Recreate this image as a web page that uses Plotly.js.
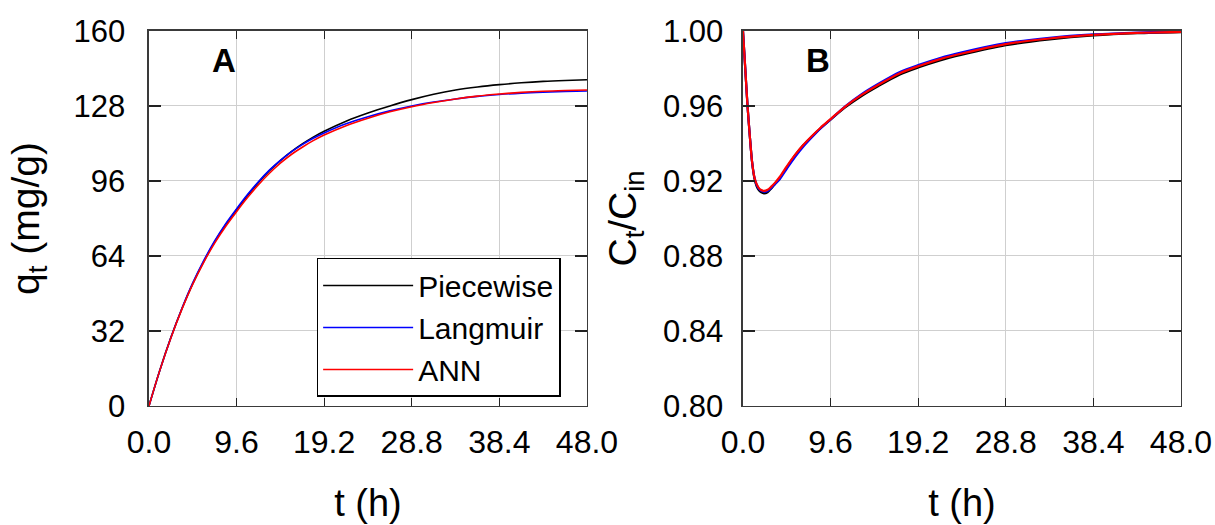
<!DOCTYPE html>
<html><head><meta charset="utf-8">
<script src="https://cdn.plot.ly/plotly-3.0.1.min.js"></script>
<style>html,body{margin:0;padding:0;background:#fff;}#chart{width:1215px;height:525px;}</style>
</head><body><div id="chart"></div>
<script>
// ---- Data ----
const seriesNames = ['Piecewise', 'Langmuir', 'ANN'];
const seriesColors = ['#000000', '#0000ff', '#ff0000'];

// Panel A: adsorbed amount q_t (mg/g) vs t (h)
const tA = [0, 1.2, 2.4, 3.6, 4.8, 6.0, 7.2, 8.4, 9.6, 10.8, 12.0, 13.2, 14.4, 15.6, 16.8, 18.0, 19.2, 21.6, 24.0, 26.4, 28.8, 31.2, 33.6, 36.0, 38.4, 40.8, 43.2, 45.6, 48.0];
const qPiecewise = [0, 15.4, 29.2, 41.4, 52.2, 61.6, 70.0, 77.3, 83.7, 89.8, 95.4, 100.4, 104.7, 108.5, 111.8, 114.7, 117.2, 121.5, 125.0, 128.0, 130.7, 133.0, 134.8, 136.1, 137.1, 137.9, 138.5, 138.9, 139.2];
const qLangmuir  = [0, 15.3, 29.1, 41.5, 52.5, 62.0, 70.4, 77.7, 84.1, 90.2, 95.7, 100.6, 104.8, 108.4, 111.5, 114.2, 116.5, 120.4, 123.4, 125.9, 128.0, 129.7, 131.0, 132.1, 132.9, 133.5, 133.9, 134.2, 134.4];
const qANN       = [0, 15.3, 29.0, 41.2, 52.0, 61.3, 69.5, 76.6, 82.9, 88.9, 94.4, 99.3, 103.6, 107.3, 110.4, 113.2, 115.6, 119.6, 122.8, 125.5, 127.7, 129.5, 131.0, 132.2, 133.1, 133.8, 134.3, 134.6, 134.8];

// Panel B: outlet concentration ratio C_t/C_in vs t (h)
const tB = [0, 0.25, 0.5, 0.75, 1.0, 1.25, 1.5, 1.75, 2.0, 2.3, 2.7, 3.1, 3.5, 4.0, 4.8, 5.7, 6.6, 7.5, 8.5, 9.6, 11.2, 13.0, 14.8, 17.2, 19.2, 21.6, 24.0, 28.8, 33.6, 38.4, 43.2, 48.0];
const cPiecewise = [1.000, 0.980, 0.9600, 0.9440, 0.9300, 0.9215, 0.9172, 0.9150, 0.9139, 0.9134, 0.9140, 0.9160, 0.9184, 0.9212, 0.9272, 0.9336, 0.9390, 0.9435, 0.9481, 0.9527, 0.9592, 0.9653, 0.9705, 0.9768, 0.9805, 0.9843, 0.9873, 0.9924, 0.9955, 0.9976, 0.9988, 0.9994];
const cLangmuir  = [1.000, 0.980, 0.9600, 0.9440, 0.9300, 0.9220, 0.9180, 0.9158, 0.9148, 0.9143, 0.9147, 0.9163, 0.9183, 0.9208, 0.9265, 0.9327, 0.9382, 0.9430, 0.9480, 0.9528, 0.9598, 0.9663, 0.9717, 0.9781, 0.9818, 0.9856, 0.9886, 0.9935, 0.9964, 0.9982, 0.9992, 0.9997];
const cANN       = [1.000, 0.980, 0.9600, 0.9440, 0.9300, 0.9220, 0.9183, 0.9162, 0.9152, 0.9147, 0.9153, 0.9170, 0.9190, 0.9220, 0.9278, 0.9339, 0.9392, 0.9437, 0.9484, 0.9530, 0.9597, 0.9659, 0.9712, 0.9775, 0.9812, 0.9850, 0.9880, 0.9930, 0.9960, 0.9979, 0.9990, 0.9995];

const xTickVals = [0, 9.6, 19.2, 28.8, 38.4, 48.0];
const xTickText = ['0.0', '9.6', '19.2', '28.8', '38.4', '48.0'];
const yATickVals = [0, 32, 64, 96, 128, 160];
const yBTickVals = [0.80, 0.84, 0.88, 0.92, 0.96, 1.00];
const yBTickText = ['0.80', '0.84', '0.88', '0.92', '0.96', '1.00'];

// ---- Traces ----
const ySetA = [qPiecewise, qLangmuir, qANN];
const ySetB = [cPiecewise, cLangmuir, cANN];
const traces = [];
seriesNames.forEach((name, i) => {
  traces.push({
    x: tA, y: ySetA[i], name: name, type: 'scatter', mode: 'lines',
    line: {color: seriesColors[i], width: 1.6, shape: 'spline', smoothing: 1},
    xaxis: 'x', yaxis: 'y', showlegend: true
  });
});
seriesNames.forEach((name, i) => {
  traces.push({
    x: tB, y: ySetB[i], name: name, type: 'scatter', mode: 'lines',
    line: {color: seriesColors[i], width: 2.2, shape: 'spline', smoothing: 0.8},
    xaxis: 'x2', yaxis: 'y2', showlegend: false
  });
});

const FONT = 'Liberation Sans, Arial, Helvetica, sans-serif';
const axisCommon = {
  showline: true, linecolor: '#3a3a3a', linewidth: 1.5, mirror: 'allticks',
  ticks: 'inside', tickcolor: '#222', tickwidth: 1.3,
  showgrid: true, gridcolor: '#cfcfcf', gridwidth: 1, zeroline: false,
  tickfont: {family: FONT, size: 31, color: '#000'}
};

const layout = {
  width: 1215, height: 525,
  margin: {l: 0, r: 0, t: 0, b: 0},
  paper_bgcolor: '#ffffff', plot_bgcolor: '#ffffff',
  font: {family: FONT, color: '#000'},
  xaxis: Object.assign({}, axisCommon, {
    domain: [0.1226, 0.4831], range: [0, 48], tickmode: 'array',
    tickvals: xTickVals, ticktext: xTickText, ticklen: 8, ticklabelstandoff: 7,
    tickfont: {family: FONT, size: 32, color: '#000'},
    title: {text: 't (h)', font: {family: FONT, size: 38, color: '#000'}, standoff: 30},
    anchor: 'y'
  }),
  yaxis: Object.assign({}, axisCommon, {
    domain: [0.2267, 0.941], range: [0, 160], tickmode: 'array',
    tickvals: yATickVals, ticklen: 12, ticklabelstandoff: 16,
    title: {text: 'q<sub>t</sub> (mg/g)', font: {family: FONT, size: 39, color: '#000'}, standoff: 22},
    anchor: 'x'
  }),
  xaxis2: Object.assign({}, axisCommon, {
    domain: [0.6115, 0.972], range: [0, 48], tickmode: 'array',
    tickvals: xTickVals, ticktext: xTickText, ticklen: 8, ticklabelstandoff: 7,
    tickfont: {family: FONT, size: 32, color: '#000'},
    title: {text: 't (h)', font: {family: FONT, size: 38, color: '#000'}, standoff: 30},
    anchor: 'y2'
  }),
  yaxis2: Object.assign({}, axisCommon, {
    domain: [0.2267, 0.941], range: [0.80, 1.00], tickmode: 'array',
    tickvals: yBTickVals, ticktext: yBTickText, ticklen: 12, ticklabelstandoff: 12,
    title: {text: 'C<sub>t</sub>/C<sub>in</sub>', font: {family: FONT, size: 39, color: '#000'}, standoff: 14},
    anchor: 'x2'
  }),
  legend: {
    x: 0.2606, y: 0.5086, xanchor: 'left', yanchor: 'top',
    bgcolor: '#ffffff', bordercolor: '#000', borderwidth: 1.5,
    font: {family: FONT, size: 30, color: '#000'},
    itemwidth: 90, tracegroupgap: 0
  },
  annotations: [
    {text: '<b>A</b>', xref: 'x domain', yref: 'y domain', x: 0.171, y: 0.921,
     xanchor: 'center', yanchor: 'middle', showarrow: false,
     font: {family: FONT, size: 33, color: '#000'}},
    {text: '<b>B</b>', xref: 'x2 domain', yref: 'y2 domain', x: 0.171, y: 0.921,
     xanchor: 'center', yanchor: 'middle', showarrow: false,
     font: {family: FONT, size: 33, color: '#000'}}
  ]
};

Plotly.newPlot('chart', traces, layout, {staticPlot: true, displayModeBar: false});
</script>
</body></html>
